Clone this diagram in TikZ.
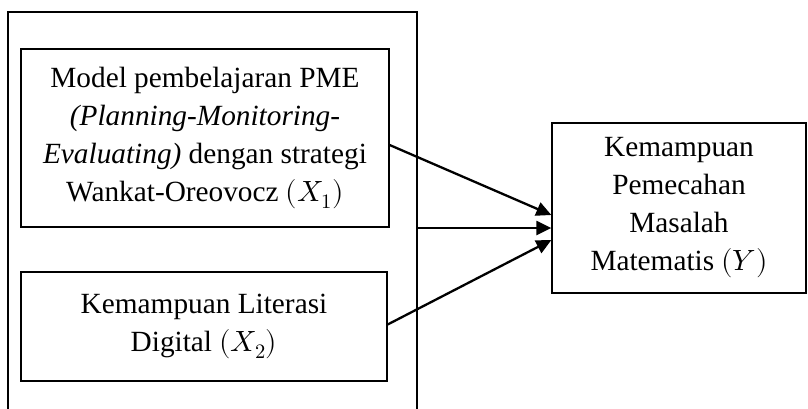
\documentclass[tikz,border=0pt]{standalone}
\usepackage{fontspec}
\usepackage{unicode-math}
\setmainfont{Liberation Serif}
\setmathfont{Latin Modern Math}
\usetikzlibrary{arrows.meta}
\begin{document}
\begin{tikzpicture}[x=1pt,y=-1pt,
  box/.style={draw, line width=1.3pt, rectangle, inner sep=0pt, align=center,
    font=\fontsize{29.3}{38}\selectfont},
  arr/.style={line width=2.3pt, -{Triangle[length=15pt,width=14pt]}}]
\useasboundingbox (0,0) rectangle (808,408);
\node[draw, line width=1.3pt, minimum width=409pt, minimum height=408pt, inner sep=0pt] (outer) at (212.5,216) {};
\node[box, minimum width=368pt, minimum height=178pt] (b1) at (205,138)
  {Model pembelajaran PME\\\textit{(Planning-Monitoring-}\\\textit{Evaluating)} dengan strategi\\Wankat-Oreovocz $(X_1)$};
\node[box, minimum width=366pt, minimum height=109pt] (b2) at (204,326.5)
  {Kemampuan Literasi\\Digital $(X_2)$};
\node[box, minimum width=254pt, minimum height=170pt] (Y) at (679,208)
  {Kemampuan\\Pemecahan\\Masalah\\Matematis $(Y)$};
\draw[arr] ([yshift=-7pt]b1.east) -- ([yshift=-7pt]Y.west);
\draw[arr] ([yshift=-12pt]outer.east) -- ([yshift=-20pt]Y.west);
\draw[arr] ([yshift=2pt]b2.east) -- ([yshift=-32pt]Y.west);
\end{tikzpicture}
\end{document}
